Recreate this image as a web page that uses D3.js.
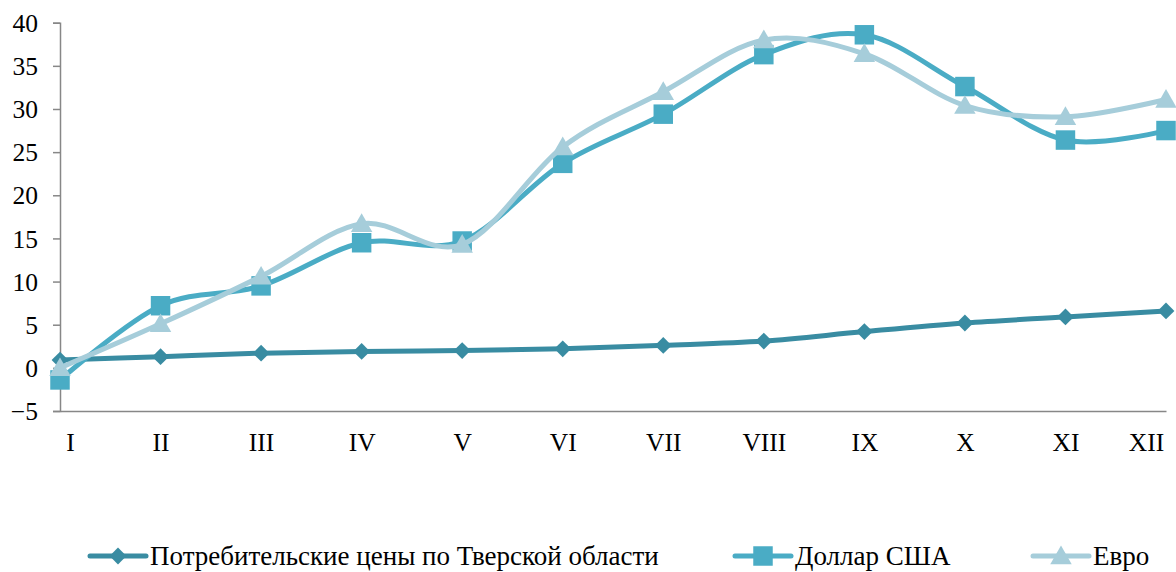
<!DOCTYPE html>
<html>
<head>
<meta charset="utf-8">
<script src="https://cdn.jsdelivr.net/npm/d3@7"></script>
<style>
  html, body { margin: 0; padding: 0; background: #fff; }
  svg { display: block; }
  text { font-family: "Liberation Serif", "Times New Roman", Times, serif; fill: #000; }
</style>
</head>
<body>
<svg id="chart" width="1176" height="572"></svg>
<script>
// Monthly change, % since start of year
const months = ["I", "II", "III", "IV", "V", "VI", "VII", "VIII", "IX", "X", "XI", "XII"];
const cpiTver = [0.9, 1.3, 1.7, 1.9, 2.0, 2.2, 2.6, 3.1, 4.2, 5.2, 5.9, 6.6];
const usd     = [-1.4, 7.2, 9.5, 14.5, 14.7, 23.7, 29.4, 36.3, 38.6, 32.6, 26.4, 27.5];
const eur     = [0.0, 5.1, 10.6, 16.7, 14.3, 25.6, 32.0, 38.0, 36.4, 30.4, 29.1, 31.1];
const yTicks  = [-5, 0, 5, 10, 15, 20, 25, 30, 35, 40];

const seriesNames = ["Потребительские цены по Тверской области", "Доллар США", "Евро"];
const seriesColors = ["#398ca2", "#4aacc5", "#a6cdda"];
const seriesMarkers = ["diamond", "square", "triangle"];
const seriesValues = [cpiTver, usd, eur];

const svg = d3.select("#chart");
const axisFont = 25.5;
const legendFont = 27;
const serif = '"Liberation Serif", "Times New Roman", Times, serif';

const x = d3.scalePoint().domain(months).range([60, 1166]);
const y = d3.scaleLinear().domain([-5, 40]).range([411, 22.7]);

// Value axis
const yAxis = d3.axisLeft(y).tickValues(yTicks).tickSize(7).tickPadding(15).tickFormat(d3.format("d"));
const gy = svg.append("g").attr("transform", "translate(60,0)").call(yAxis)
  .attr("font-family", serif).attr("font-size", axisFont);
gy.select(".domain").attr("stroke", "#878787").attr("stroke-width", 1.5);
gy.selectAll(".tick line").attr("stroke", "#878787").attr("stroke-width", 1.5);
gy.selectAll(".tick text").attr("fill", "#000").attr("dy", "0.34em");

// Category axis along the bottom, edge labels kept inside the plot
const xAxis = d3.axisBottom(x).tickSize(0).tickPadding(22);
const gx = svg.append("g").attr("transform", `translate(0,${y(-5)})`).call(xAxis)
  .attr("font-family", serif).attr("font-size", axisFont);
gx.select(".domain").attr("stroke", "#878787").attr("stroke-width", 1.5);
gx.selectAll(".tick text").attr("fill", "#000")
  .attr("dx", (d, i) => i === 0 ? 10 : (i === months.length - 1 ? -20 : 0));

// Marker paths; the triangle is nudged so its box centre sits on the value
const sym = {
  diamond: d3.symbol().type(d3.symbolDiamond2).size(180),
  square: d3.symbol().type(d3.symbolSquare).size(380),
  triangle: d3.symbol().type(d3.symbolTriangle).size(200)
};
const markerShift = { diamond: 0, square: 0, triangle: 2 };

const line = d3.line()
  .x((d, i) => x(months[i]))
  .y(d => y(d))
  .curve(d3.curveCatmullRom.alpha(0));

// Series lines and markers
seriesValues.forEach((vals, s) => {
  const g = svg.append("g");
  const m = seriesMarkers[s];
  g.append("path")
    .datum(vals)
    .attr("d", line)
    .attr("fill", "none")
    .attr("stroke", seriesColors[s])
    .attr("stroke-width", 5)
    .attr("stroke-linejoin", "round")
    .attr("stroke-linecap", "round");
  g.selectAll("path.marker")
    .data(vals)
    .join("path")
    .attr("class", "marker")
    .attr("d", sym[m])
    .attr("transform", (d, i) => `translate(${x(months[i])},${y(d) + markerShift[m]})`)
    .attr("fill", seriesColors[s]);
});

// Legend
const legendX = [90, 735, 1033];
const legendY = 556;
seriesNames.forEach((name, s) => {
  const m = seriesMarkers[s];
  const g = svg.append("g").attr("transform", `translate(${legendX[s]},${legendY})`);
  g.append("line").attr("x1", 0).attr("x2", 56).attr("y1", 0).attr("y2", 0)
    .attr("stroke", seriesColors[s]).attr("stroke-width", 5).attr("stroke-linecap", "round");
  g.append("path").attr("d", sym[m]).attr("transform", `translate(28,${markerShift[m]})`).attr("fill", seriesColors[s]);
  g.append("text").attr("x", 60).attr("y", 0).attr("dy", "0.34em")
    .attr("font-family", serif).attr("font-size", legendFont).text(name);
});
</script>
</body>
</html>
